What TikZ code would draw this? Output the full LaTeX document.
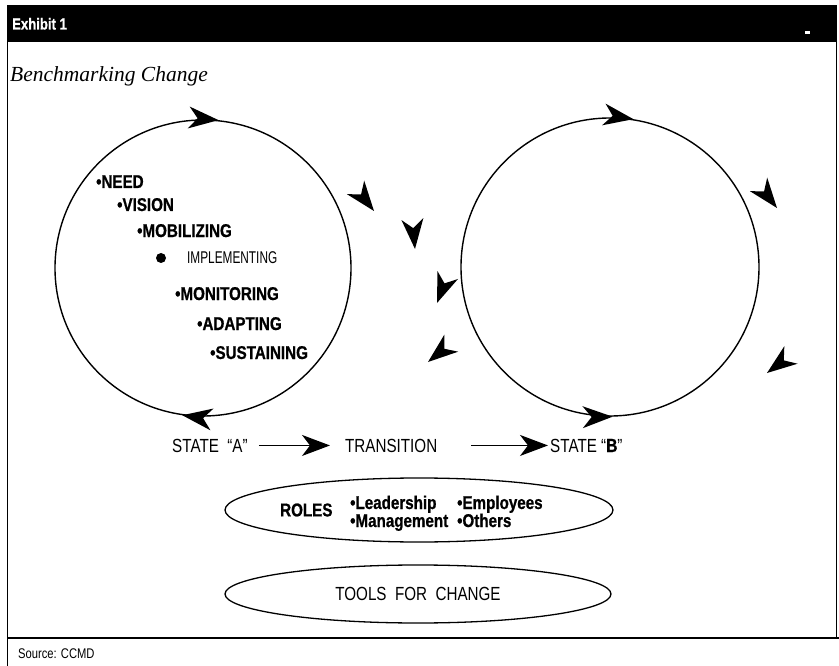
\documentclass[tikz,border=0pt]{standalone}
\usepackage{fontspec}
\setmainfont{Liberation Sans}
\newfontfamily\regcn[FakeStretch=0.8]{Liberation Sans}
\newfontfamily\boldcn[FakeStretch=0.82,FakeBold=0.8,UprightFont=* Bold]{Liberation Sans}
\newfontfamily\titlefont{Liberation Serif}
\usetikzlibrary{arrows.meta,shapes.geometric}
\tikzset{
  bitem/.style={font=\boldcn\fontsize{18.5}{20}\selectfont, inner sep=0pt, anchor=base west},
  ritem/.style={font=\regcn\fontsize{19}{21}\selectfont, inner sep=0pt, anchor=base west},
  ring/.style={circle, draw, line width=1.4pt, inner sep=0pt},
  oval/.style={ellipse, draw, line width=1.3pt, inner sep=0pt},
  dart/.pic={\fill (0,0) -- (-30,11) -- (-21,0) -- (-30,-11) -- cycle;},
  flowarrow/.style={line width=1.5pt, -{Stealth[length=28pt,width=21pt,inset=8pt]}}
}
\begin{document}
\begin{tikzpicture}[x=1pt,y=-1pt]
\useasboundingbox (0,0) rectangle (839,666);
% frame
\fill (7,5) rectangle (837,42);
\fill[white] (805,31) rectangle (810,34);
\draw[line width=1.5pt] (7.5,42) -- (7.5,666);
\draw[line width=1.5pt] (836.5,42) -- (836.5,638);
\draw[line width=2pt] (7,638) -- (839,638);
\node[font=\boldcn\fontsize{16}{18}\selectfont, text=white, anchor=base west, inner sep=0pt] (exh) at (12,29.5) {Exhibit 1};
\node[font=\titlefont\itshape\fontsize{21.5}{24}\selectfont, anchor=base west, inner sep=0pt] (title) at (10,82) {Benchmarking Change};
\node[font=\regcn\fontsize{14}{16}\selectfont, anchor=base west, inner sep=0pt] (src) at (18,658) {Source: CCMD};
% circles
\node[ring, minimum size=296pt] (cA) at (203,268) {};
\node[ring, minimum size=298pt] (cB) at (610,267) {};
\pic[rotate=-5] at (cA.84.6) {dart};
\pic[rotate=172] at (cA.262) {dart};
\pic[rotate=-9] at (cB.81) {dart};
\pic[rotate=1] at (cB.271) {dart};
% free arrowheads
\pic[rotate=-52] at (374,211) {dart};
\pic[rotate=-85] at (415,249) {dart};
\pic[rotate=-111] at (437,303) {dart};
\pic[rotate=-141] at (428,362) {dart};
\pic[rotate=-52] at (777,208) {dart};
\pic[rotate=-143] at (767,373) {dart};
% list in circle A
\node[bitem] (need) at (96,188) {•NEED};
\node[bitem] (vision) at (117,211) {•VISION};
\node[bitem] (mob) at (137,237) {•MOBILIZING};
\node[circle, fill, minimum size=10pt, inner sep=0pt] (dot) at (161,258) {};
\node[ritem, font=\regcn\fontsize{17}{19}\selectfont] (impl) at (187,264) {\scalebox{0.87}[1]{IMPLEMENTING}};
\node[bitem] (mon) at (175,300) {•MONITORING};
\node[bitem] (adapt) at (197,330) {•ADAPTING};
\node[bitem] (sust) at (210,359) {•SUSTAINING};
% states
\node[ritem] (stateA) at (172,452) {STATE \ “A”};
\node[ritem] (trans) at (345,452) {TRANSITION};
\node[ritem] (stateB) at (550,452) {STATE “{\boldcn B}”};
\draw[flowarrow, shorten <=11pt, shorten >=15pt] (stateA.east) -- (trans.west);
\draw[flowarrow, shorten <=34pt, shorten >=2pt] (trans.east) -- (stateB.west);
% roles
\node[oval, minimum width=388pt, minimum height=64pt] (roles) at (419,510) {};
\node[bitem, anchor=west] (rl) at (280,510) {ROLES};
\node[bitem] (lead) at (350,509) {•Leadership};
\node[bitem] (mgmt) at (350,527) {•Management};
\node[bitem] (emp) at (457,509) {•Employees};
\node[bitem] (oth) at (457,527) {•Others};
% tools
\node[oval, minimum width=386pt, minimum height=58pt, font=\regcn\fontsize{19}{21}\selectfont] (tools) at (418,594) {TOOLS \ FOR \ CHANGE};
\end{tikzpicture}
\end{document}
